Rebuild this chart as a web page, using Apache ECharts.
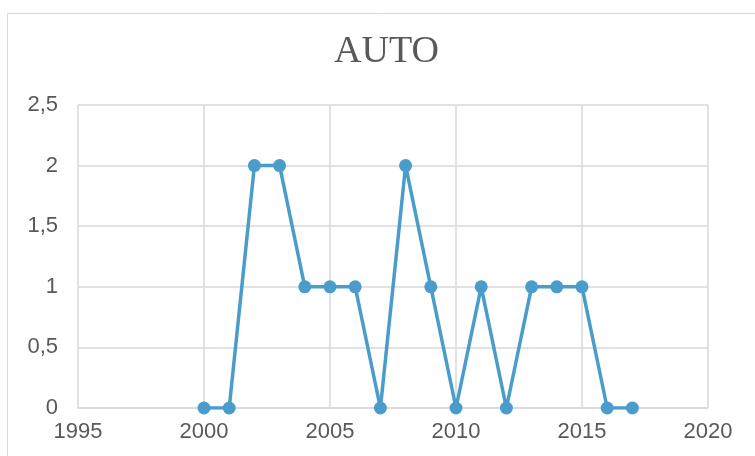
<!DOCTYPE html>
<html>
<head>
<meta charset="utf-8">
<script src="https://cdn.jsdelivr.net/npm/echarts@6/dist/echarts.min.js"></script>
<style>
  html, body { margin: 0; padding: 0; background: #fff; }
  #main { width: 755px; height: 456px; }
</style>
</head>
<body>
<div id="main"></div>
<script>
// years and values
var years = [2000, 2001, 2002, 2003, 2004, 2005, 2006, 2007, 2008, 2009, 2010, 2011, 2012, 2013, 2014, 2015, 2016, 2017];
var values = [0, 0, 2, 2, 1, 1, 1, 0, 2, 1, 0, 1, 0, 1, 1, 1, 0, 0];
var yTicks = [0, 0.5, 1, 1.5, 2, 2.5];

var points = years.map(function (y, i) { return [y, values[i]]; });

var myChart = echarts.init(document.getElementById('main'));
var option = {
    animation: false,
    title: {
        text: 'AUTO',
        left: 329,
        top: 28,
        textStyle: {
            fontFamily: 'Liberation Serif',
            fontWeight: 'normal',
            fontSize: 38,
            color: '#595959'
        }
    },
    graphic: [{
        type: 'rect',
        shape: { x: 7.5, y: 13.5, width: 800, height: 500 },
        style: { fill: 'none', stroke: '#d9d9d9', lineWidth: 1 },
        silent: true
    }],
    grid: { left: 78, right: 47, top: 105, bottom: 48 },
    xAxis: {
        type: 'value',
        min: 1995,
        max: 2020,
        interval: 5,
        axisLine: { lineStyle: { color: '#d9d9d9', width: 1.5 } },
        axisTick: { show: false },
        splitLine: { show: true, lineStyle: { color: '#d9d9d9', width: 1.5 } },
        axisLabel: {
            color: '#595959',
            fontFamily: 'Liberation Sans',
            fontSize: 22,
            margin: 13,
            formatter: function (v) { return String(v); }
        }
    },
    yAxis: {
        type: 'value',
        min: 0,
        max: 2.5,
        interval: 0.5,
        axisLine: { show: false },
        axisTick: { show: false },
        splitLine: { lineStyle: { color: '#d9d9d9', width: 1.5 } },
        axisLabel: {
            color: '#595959',
            fontFamily: 'Liberation Sans',
            fontSize: 22,
            margin: 20,
            formatter: function (v) {
                return yTicks.indexOf(v) >= 0 ? String(v).replace('.', ',') : '';
            }
        }
    },
    series: [{
        type: 'line',
        data: points,
        symbol: 'circle',
        symbolSize: 13,
        lineStyle: { color: '#4a9cca', width: 3.5 },
        itemStyle: { color: '#4a9cca' }
    }]
};
myChart.setOption(option);
</script>
</body>
</html>
